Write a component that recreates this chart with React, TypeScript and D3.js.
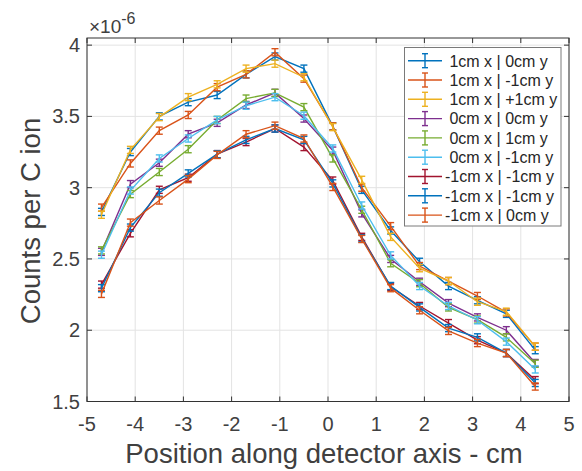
import React from "react";
import * as d3 from "d3";

// ---- data ----
const positions = [-4.7, -4.1, -3.5, -2.9, -2.3, -1.7, -1.1, -0.5, 0.1, 0.7, 1.3, 1.9, 2.5, 3.1, 3.7, 4.3];

const s1cm0 = [2.83, 3.25, 3.5, 3.6, 3.65, 3.795, 3.92, 3.835, 3.43, 2.985, 2.7, 2.48, 2.31, 2.21, 2.115, 1.86];
const s1cmM1 = [2.86, 3.17, 3.4, 3.51, 3.705, 3.795, 3.95, 3.765, 3.43, 3.0, 2.73, 2.45, 2.345, 2.24, 2.125, 1.885];
const s1cmP1 = [2.81, 3.265, 3.495, 3.635, 3.725, 3.835, 3.87, 3.775, 3.425, 3.055, 2.655, 2.435, 2.345, 2.2, 2.13, 1.885];
const s0cm0 = [2.55, 3.025, 3.175, 3.375, 3.455, 3.58, 3.665, 3.485, 3.26, 2.82, 2.5, 2.34, 2.19, 2.09, 2.0, 1.77];
const s0cm1 = [2.56, 2.955, 3.11, 3.27, 3.475, 3.625, 3.665, 3.565, 3.205, 2.845, 2.47, 2.33, 2.16, 2.075, 1.95, 1.765];
const s0cmM1 = [2.53, 2.98, 3.205, 3.345, 3.475, 3.575, 3.635, 3.505, 3.275, 2.875, 2.525, 2.31, 2.17, 2.07, 1.92, 1.725];
const sM1cmM1a = [2.32, 2.68, 2.985, 3.07, 3.235, 3.32, 3.415, 3.285, 3.05, 2.655, 2.305, 2.17, 2.05, 1.93, 1.84, 1.65];
const sM1cmM1b = [2.295, 2.72, 2.965, 3.1, 3.235, 3.335, 3.415, 3.335, 3.03, 2.645, 2.31, 2.16, 2.015, 1.95, 1.84, 1.63];
const sM1cm0 = [2.255, 2.755, 2.91, 3.06, 3.23, 3.375, 3.435, 3.345, 3.005, 2.64, 2.295, 2.14, 1.995, 1.91, 1.84, 1.605];

const seriesValues = [s1cm0, s1cmM1, s1cmP1, s0cm0, s0cm1, s0cmM1, sM1cmM1a, sM1cmM1b, sM1cm0];
const seriesErrors = [0.025, 0.025, 0.025, 0.025, 0.025, 0.025, 0.025, 0.025, 0.025];
const seriesLabels = [
  " 1cm x | 0cm y",
  " 1cm x | -1cm y",
  " 1cm x | +1cm y",
  " 0cm x | 0cm y",
  " 0cm x | 1cm y",
  " 0cm x | -1cm y",
  "-1cm x | -1cm y",
  "-1cm x | -1cm y",
  "-1cm x | 0cm y",
];
const seriesColors = ["#0072BD", "#D95319", "#EDB120", "#7E2F8E", "#77AC30", "#4DBEEE", "#A2142F", "#0072BD", "#D95319"];

const xTicks = [-5, -4, -3, -2, -1, 0, 1, 2, 3, 4, 5];
const yTicks = [1.5, 2, 2.5, 3, 3.5, 4];
const yTickLabels = ["1.5", "2", "2.5", "3", "3.5", "4"];

const W = 582;
const H = 471;
const left = 87;
const right = 569;
const top = 38;
const bottom = 401.5;

const FONT = "'Liberation Sans', Arial, Helvetica, sans-serif";
const TXT = "#404040";
const AX = "#333333";

export default function App() {
  const x = d3.scaleLinear().domain([-5, 5]).range([left, right]);
  const y = d3.scaleLinear().domain([1.5, 4.05]).range([bottom, top]);
  const line = d3
    .line<[number, number]>()
    .x((d) => x(d[0]))
    .y((d) => y(d[1]));

  const cap = 3.5;

  // legend geometry
  const lgX0 = 404.5, lgY0 = 47.5, lgX1 = 561, lgY1 = 226;
  const rowY0 = 60.7, rowStep = 19.3;
  const sampleX0 = 408, sampleX1 = 442;

  return (
    <svg
      width={W}
      height={H}
      style={{ position: "absolute", left: 0, top: 0, background: "#fff" }}
      fontFamily={FONT}
    >
      <rect x={0} y={0} width={W} height={H} fill="#fff" />
      {/* grid */}
      {xTicks.map((t) => (
        <line key={"gx" + t} x1={x(t)} x2={x(t)} y1={top} y2={bottom} stroke="#e3e3e3" strokeWidth={1} />
      ))}
      {yTicks.map((t) => (
        <line key={"gy" + t} x1={left} x2={right} y1={y(t)} y2={y(t)} stroke="#e3e3e3" strokeWidth={1} />
      ))}

      {/* series */}
      {seriesValues.map((vals, si) => {
        const pts = positions.map((p, i) => [p, vals[i]] as [number, number]);
        const e = seriesErrors[si];
        const c = seriesColors[si];
        return (
          <g key={"s" + si}>
            <path d={line(pts) || ""} fill="none" stroke={c} strokeWidth={1.4} />
            {pts.map(([p, v], i) => {
              const cx = x(p);
              const y1 = y(v + e);
              const y2 = y(v - e);
              return (
                <g key={i} stroke={c} strokeWidth={1.4}>
                  <line x1={cx} x2={cx} y1={y1} y2={y2} />
                  <line x1={cx - cap} x2={cx + cap} y1={y1} y2={y1} />
                  <line x1={cx - cap} x2={cx + cap} y1={y2} y2={y2} />
                </g>
              );
            })}
          </g>
        );
      })}

      {/* axes box */}
      <rect x={left} y={top} width={right - left} height={bottom - top} fill="none" stroke={AX} strokeWidth={1} />
      {xTicks.map((t) => (
        <g key={"tx" + t}>
          <line x1={x(t)} x2={x(t)} y1={bottom} y2={bottom - 5} stroke={AX} />
          <line x1={x(t)} x2={x(t)} y1={top} y2={top + 5} stroke={AX} />
          <text x={x(t)} y={431} textAnchor="middle" fontSize={20} fill={TXT}>
            {String(t)}
          </text>
        </g>
      ))}
      {yTicks.map((t, i) => (
        <g key={"ty" + t}>
          <line x1={left} x2={left + 5} y1={y(t)} y2={y(t)} stroke={AX} />
          <line x1={right} x2={right - 5} y1={y(t)} y2={y(t)} stroke={AX} />
          <text x={80} y={y(t) + 7} textAnchor="end" fontSize={20} fill={TXT}>
            {yTickLabels[i]}
          </text>
        </g>
      ))}

      {/* exponent */}
      <text x={89} y={33} fontSize={19} fill={TXT}>
        ×10
        <tspan fontSize={16} dy={-9}>-6</tspan>
      </text>

      {/* axis labels */}
      <text x={(left + right) / 2 - 4} y={463} textAnchor="middle" fontSize={27.5} fill={TXT}>
        Position along detector axis - cm
      </text>
      <text transform={`translate(39.5, 221) rotate(-90)`} textAnchor="middle" fontSize={27.5} fill={TXT}>
        Counts per C ion
      </text>

      {/* legend */}
      <rect x={lgX0} y={lgY0} width={lgX1 - lgX0} height={lgY1 - lgY0} fill="#fff" stroke="#7a7a7a" strokeWidth={1} />
      {seriesLabels.map((lab, i) => {
        const cy = rowY0 + rowStep * i;
        const c = seriesColors[i];
        const cx = (sampleX0 + sampleX1) / 2;
        return (
          <g key={"lg" + i}>
            <g stroke={c} strokeWidth={1.4}>
              <line x1={sampleX0} x2={sampleX1} y1={cy} y2={cy} />
              <line x1={cx} x2={cx} y1={cy - 7} y2={cy + 7} />
              <line x1={cx - 3} x2={cx + 3} y1={cy - 7} y2={cy - 7} />
              <line x1={cx - 3} x2={cx + 3} y1={cy + 7} y2={cy + 7} />
            </g>
            <text x={445} y={cy + 5.8} fontSize={16} fill="#262626" style={{ whiteSpace: "pre" }}>
              {lab}
            </text>
          </g>
        );
      })}
    </svg>
  );
}
